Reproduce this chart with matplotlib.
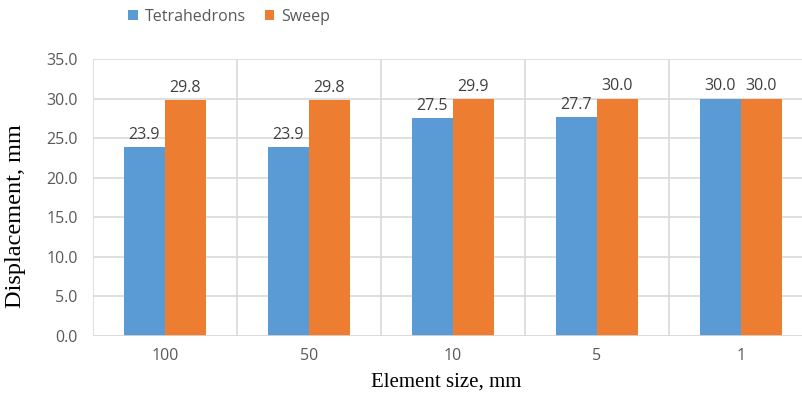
import matplotlib
matplotlib.use("Agg")
import matplotlib.pyplot as plt
import numpy as np

categories = ["100", "50", "10", "5", "1"]
tetra = [23.9, 23.9, 27.5, 27.7, 30.0]
sweep = [29.8, 29.8, 29.9, 30.0, 30.0]
yticks = [0, 5, 10, 15, 20, 25, 30, 35]

W, H = 803, 397
fig = plt.figure(figsize=(W/100, H/100), dpi=100)
ax = fig.add_axes([93/W, 1-336/H, (803-93)/W, (336-59)/H])

x = np.arange(len(categories))
bw = 41/144
blue = "#5B9BD5"
orange = "#ED7D31"
b1 = ax.bar(x - bw/2, tetra, bw, color=blue, label="Tetrahedrons", zorder=3)
b2 = ax.bar(x + bw/2, sweep, bw, color=orange, label="Sweep", zorder=3)

lab_font = dict(family="Open Sans", size=11.5, color="#404040")
for rect, v in zip(b1, tetra):
    ax.annotate(f"{v:.1f}", (rect.get_x()+rect.get_width()/2, v), xytext=(0, 3),
                textcoords="offset points", ha="center", va="bottom", **lab_font)
for rect, v in zip(b2, sweep):
    ax.annotate(f"{v:.1f}", (rect.get_x()+rect.get_width()/2, v), xytext=(0, 3),
                textcoords="offset points", ha="center", va="bottom", **lab_font)

ax.set_ylim(0, 35)
ax.set_yticks(yticks)
ax.set_yticklabels([f"{t:.1f}" for t in yticks])
ax.set_xlim(-0.5, 4.5 - 10/144)
ax.set_xticks(x)
ax.set_xticklabels(categories)
grid_c = "#D9D9D9"
ax.yaxis.grid(True, color=grid_c, linewidth=1.2, zorder=0)
for b in np.arange(-0.5, 5, 1.0):
    ax.axvline(b, color=grid_c, linewidth=1.2, zorder=0)
for s in ax.spines.values():
    s.set_visible(False)
ax.axhline(0, color=grid_c, linewidth=1.2, zorder=4)
ax.tick_params(axis="both", length=0, labelsize=11.5, labelcolor="#595959")
for t in ax.get_xticklabels() + ax.get_yticklabels():
    t.set_fontfamily("Open Sans")
ax.tick_params(axis="x", pad=9)
ax.tick_params(axis="y", pad=11)

fig.text(16/W, 1-216/H, "Displacement, mm", rotation=90, ha="center", va="center",
         family="Liberation Serif", size=17.5, color="black")
fig.text(446/W, 1-382/H, "Element size, mm", ha="center", va="center",
         family="Liberation Serif", size=15, color="black")

leg = fig.legend(handles=[b1, b2], loc="center", bbox_to_anchor=(229/W, 1-17/H), ncol=2,
                 frameon=False, handlelength=0.6, handleheight=0.6, handletextpad=0.4,
                 columnspacing=1.2, prop=dict(family="Open Sans", size=11.5))
for t in leg.get_texts():
    t.set_color("#595959")

fig.savefig("out.png", dpi=100)
